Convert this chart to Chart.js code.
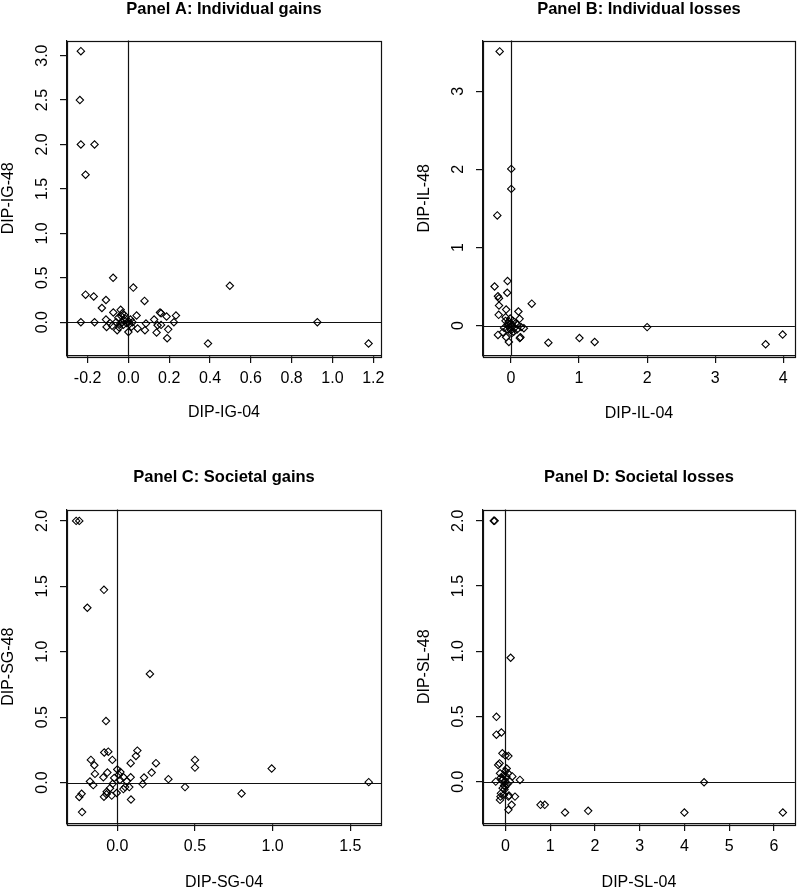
<!DOCTYPE html>
<html>
<head>
<meta charset="utf-8">
<script src="https://cdn.jsdelivr.net/npm/chart.js@4.4.1/dist/chart.umd.min.js"></script>
<style>
  body { margin: 0; background: #fff; }
  #wrap { position: relative; width: 800px; height: 891px; }
  canvas { position: absolute; }
</style>
</head>
<body>
<div id="wrap">
  <canvas id="pA" width="400" height="445" style="left:0;top:0"></canvas>
  <canvas id="pB" width="400" height="445" style="left:400px;top:0"></canvas>
  <canvas id="pC" width="400" height="446" style="left:0;top:445px"></canvas>
  <canvas id="pD" width="400" height="446" style="left:400px;top:445px"></canvas>
</div>
<script>
// panel texts
const panelTitles = ["Panel A: Individual gains", "Panel B: Individual losses", "Panel C: Societal gains", "Panel D: Societal losses"];
const xTitles = ["DIP-IG-04", "DIP-IL-04", "DIP-SG-04", "DIP-SL-04"];
const yTitles = ["DIP-IG-48", "DIP-IL-48", "DIP-SG-48", "DIP-SL-48"];

// tick labels
const xTicksA = ["-0.2", "0.0", "0.2", "0.4", "0.6", "0.8", "1.0", "1.2"];
const yTicksA = ["0.0", "0.5", "1.0", "1.5", "2.0", "2.5", "3.0"];
const xTicksB = ["0", "1", "2", "3", "4"];
const yTicksB = ["0", "1", "2", "3"];
const xTicksC = ["0.0", "0.5", "1.0", "1.5"];
const yTicksC = ["0.0", "0.5", "1.0", "1.5", "2.0"];
const xTicksD = ["0", "1", "2", "3", "4", "5", "6"];
const yTicksD = ["0.0", "0.5", "1.0", "1.5", "2.0"];

// Panel A: individual gains
const xA = [-0.233, -0.238, -0.233, -0.166, -0.21, -0.21, -0.17, -0.075, 0.497, 0.024,
  -0.11, 0.079, -0.13, -0.074, -0.038, -0.03, 0.04, 0.155, 0.16, 0.187, 0.233,
  -0.233, -0.166, -0.11, -0.09, -0.107, -0.055, 0.0, 0.045, 0.081, 0.086, 0.126, 0.138,
  0.143, 0.16, 0.195, 0.19, 0.223, 0.39, 0.926, 1.177,
  -0.03, -0.02, -0.01, 0.0, -0.04, -0.015, -0.025, 0.005, -0.05, -0.06, 0.01, -0.035,
  0.015, -0.08, -0.045, -0.02, 0.02];
const yA = [3.05, 2.50, 2.00, 2.00, 1.66, 0.31, 0.29, 0.50, 0.41, 0.39,
  0.25, 0.24, 0.16, 0.11, 0.14, 0.10, 0.075, 0.11, 0.10, 0.064, 0.075,
  0.0, 0.0, 0.03, -0.01, -0.053, -0.09, -0.11, -0.07, -0.09, -0.015, 0.03, -0.116,
  -0.034, -0.03, -0.08, -0.18, 0.0, -0.24, 0.0, -0.24,
  0.0, 0.02, -0.01, 0.01, -0.02, 0.04, -0.03, -0.02, 0.05, 0.0, 0.03, 0.07,
  -0.05, -0.04, -0.06, 0.08, 0.0];

// Panel B: individual losses
const xB = [-0.165, 0.005, 0.005, -0.20, -0.05, -0.24, -0.19, -0.175, -0.054, -0.175,
  0.306, -0.07, -0.18, 0.11, -0.078, 0.127, 0.19, -0.19, -0.07, -0.03, 0.14, 0.55,
  -0.117, 1.006, 1.23, 2.0, 3.74, 3.99, 0.13,
  -0.03, 0.0, -0.02, 0.02, -0.05, 0.03, -0.01, 0.05, -0.06, 0.0, 0.07, -0.04, 0.01,
  0.09, 0.15, 0.1, -0.08, 0.04, -0.1];
const yB = [3.51, 2.006, 1.75, 1.41, 0.57, 0.50, 0.375, 0.35, 0.42, 0.256,
  0.28, 0.205, 0.137, 0.18, 0.107, 0.086, -0.034, -0.12, -0.15, -0.21, -0.15, -0.22,
  -0.085, -0.16, -0.21, -0.02, -0.24, -0.115, -0.16,
  0.05, 0.02, -0.02, 0.0, 0.0, 0.06, 0.09, -0.03, -0.05, -0.06, 0.03, 0.03, -0.1,
  -0.05, -0.02, 0.01, 0.06, -0.08, -0.03];

// Panel C: societal gains
const xC = [-0.265, -0.245, -0.086, -0.193, 0.21, -0.073,
  -0.084, -0.058, 0.129, 0.12, -0.17, -0.032, 0.50, 0.50, 0.994, 0.249, 0.086, -0.148,
  0.221, -0.144, -0.064, -0.09, 0.086, 0.172, 0.329, -0.176, -0.155, 0.163, 0.436, 0.80,
  1.619, -0.23, -0.245, -0.227, -0.086, -0.07, -0.036, -0.004, 0.088, -0.047, 0.039, 0.077,
  0.017, -0.02, 0.01, 0.04, -0.068, 0.05, -0.03, 0.0, 0.02, 0.06];
const yC = [2.0, 2.0, 1.473, 1.336, 0.83, 0.47,
  0.23, 0.236, 0.244, 0.203, 0.173, 0.173, 0.173, 0.114, 0.107, 0.148, 0.148, 0.132,
  0.076, 0.066, 0.076, 0.04, 0.04, 0.038, 0.026, 0.008, -0.02, -0.012, -0.035, -0.084,
  0.003, -0.086, -0.11, -0.226, -0.109, -0.09, -0.1, -0.08, -0.13, -0.043, -0.05, -0.035,
  0.02, 0.035, 0.06, 0.04, -0.07, -0.035, -0.01, 0.1, 0.08, 0.01];

// Panel D: societal losses
const xD = [-0.26, -0.24, 0.118, -0.2, -0.2, -0.089, -0.067, 0.067, 0.0, -0.16, -0.13,
  -0.12, 0.06, 0.155, 0.326, -0.215, -0.1, -0.12, 0.08, 0.215, 0.14, 0.067, 0.785, 0.88,
  1.333, 1.85, 4.0, 4.44, 6.2, -0.11, 0.07,
  -0.05, 0.0, -0.03, 0.02, -0.08, 0.04, -0.02, 0.0, -0.06, 0.03, -0.04, 0.0, -0.1, 0.1, -0.03];
const yD = [2.0, 2.0, 0.95, 0.497, 0.36, 0.377, 0.217, 0.196, 0.2, 0.128, 0.14,
  0.064, 0.064, 0.04, 0.013, 0.0, -0.09, -0.14, -0.107, -0.115, -0.178, -0.216, -0.178, -0.178,
  -0.237, -0.224, -0.237, -0.005, -0.237, -0.115, -0.115,
  0.02, 0.0, -0.03, 0.04, 0.01, -0.02, -0.06, 0.08, -0.05, 0.1, 0.05, -0.04, 0.03, 0.0, -0.1];

Chart.defaults.font.family = '"Liberation Sans", Arial, sans-serif';
Chart.defaults.color = '#000';

const labelFont = { size: 16, lineHeight: 1 };
const lineColor = '#111';

// box around the plot region, lines at x=0 and y=0, rotated y tick labels
const framePlugin = {
  id: 'frame',
  beforeDatasetsDraw(chart) {
    const { ctx, chartArea: a, scales: { x, y } } = chart;
    const yt = chart.options.plugins.frame.yTicks;
    ctx.save();
    ctx.strokeStyle = lineColor;
    ctx.lineWidth = 1.2;
    ctx.beginPath();
    const x0 = Math.round(x.getPixelForValue(0)) + 0.5;
    const y0 = Math.round(y.getPixelForValue(0)) + 0.5;
    ctx.moveTo(x0, a.top);
    ctx.lineTo(x0, a.bottom);
    ctx.moveTo(a.left, y0);
    ctx.lineTo(a.right, y0);
    ctx.stroke();
    ctx.strokeRect(Math.round(a.left) + 0.5, Math.round(a.top) + 0.5,
      Math.round(a.right - a.left), Math.round(a.bottom - a.top));

    ctx.fillStyle = '#000';
    ctx.font = '16px "Liberation Sans", Arial, sans-serif';
    ctx.textAlign = 'center';
    ctx.textBaseline = 'alphabetic';
    yt.forEach((lab) => {
      const py = y.getPixelForValue(parseFloat(lab));
      ctx.save();
      ctx.translate(a.left - 25.5 + 5.7, py);
      ctx.rotate(-Math.PI / 2);
      ctx.fillText(lab, 0, 0);
      ctx.restore();
    });
    ctx.restore();
  }
};

function rysujPanel(id, p) {
  const punkty = p.xs.map((v, i) => ({ x: v, y: p.ys[i] }));
  new Chart(document.getElementById(id), {
    type: 'scatter',
    data: {
      datasets: [{
        data: punkty,
        pointStyle: 'rectRot',
        pointRadius: 3.7,
        pointBorderWidth: 1.1,
        borderColor: '#000',
        backgroundColor: 'rgba(0,0,0,0)'
      }]
    },
    options: {
      responsive: false,
      animation: false,
      layout: { padding: { left: 0, right: p.right, top: 0, bottom: 0 } },
      plugins: {
        legend: { display: false },
        tooltip: { enabled: false },
        title: {
          display: true,
          fullSize: false,
          text: p.title,
          color: '#000',
          font: { size: 16.5, weight: 'bold', lineHeight: 1 },
          padding: { top: p.titleTop, bottom: p.titleBottom }
        },
        frame: { yTicks: p.yt }
      },
      scales: {
        x: {
          type: 'linear',
          min: p.xmin, max: p.xmax,
          afterBuildTicks: (s) => { s.ticks = p.xt.map((v) => ({ value: parseFloat(v) })); },
          afterFit: (s) => { s.height = p.xAxisH; },
          ticks: {
            callback: (v, i) => p.xt[i],
            font: labelFont, color: '#000', padding: 8,
            maxRotation: 0, autoSkip: false
          },
          grid: { drawOnChartArea: false, drawTicks: true, tickLength: 7, lineWidth: 1.2, color: lineColor, tickColor: lineColor },
          border: { display: true, color: lineColor, width: 1.2 },
          title: { display: true, text: p.xTitle, font: labelFont, color: '#000', padding: { top: 0, bottom: p.xTitlePad } }
        },
        y: {
          type: 'linear',
          min: p.ymin, max: p.ymax,
          afterBuildTicks: (s) => { s.ticks = p.yt.map((v) => ({ value: parseFloat(v) })); },
          afterFit: (s) => { s.width = p.yAxisW; },
          ticks: { display: false },
          grid: { drawOnChartArea: false, drawTicks: true, tickLength: 7, lineWidth: 1.2, color: lineColor, tickColor: lineColor },
          border: { display: true, color: lineColor, width: 1.2 },
          title: { display: true, text: p.yTitle, font: labelFont, color: '#000', padding: { top: p.yTitlePad, bottom: 0 } }
        }
      }
    },
    plugins: [framePlugin]
  });
}

rysujPanel('pA', {
  xs: xA, ys: yA, xt: xTicksA, yt: yTicksA, title: panelTitles[0], xTitle: xTitles[0], yTitle: yTitles[0],
  xmin: -0.301, xmax: 1.238, ymin: -0.38, ymax: 3.17,
  right: 19, titleTop: 1, titleBottom: 23, xAxisH: 89, yAxisW: 67, xTitlePad: 24, yTitlePad: 1
});
rysujPanel('pB', {
  xs: xB, ys: yB, xt: xTicksB, yt: yTicksB, title: panelTitles[1], xTitle: xTitles[1], yTitle: yTitles[1],
  xmin: -0.41, xmax: 4.17, ymin: -0.39, ymax: 3.65,
  right: 3, titleTop: 1, titleBottom: 23, xAxisH: 89, yAxisW: 83, xTitlePad: 23, yTitlePad: 17
});
rysujPanel('pC', {
  xs: xC, ys: yC, xt: xTicksC, yt: yTicksC, title: panelTitles[2], xTitle: xTitles[2], yTitle: yTitles[2],
  xmin: -0.324, xmax: 1.698, ymin: -0.317, ymax: 2.087,
  right: 19, titleTop: 24, titleBottom: 24, xAxisH: 67, yAxisW: 67, xTitlePad: 0, yTitlePad: 1
});
rysujPanel('pD', {
  xs: xD, ys: yD, xt: xTicksD, yt: yTicksD, title: panelTitles[3], xTitle: xTitles[3], yTitle: yTitles[3],
  xmin: -0.50, xmax: 6.47, ymin: -0.325, ymax: 2.087,
  right: 3, titleTop: 24, titleBottom: 24, xAxisH: 67, yAxisW: 83, xTitlePad: 0, yTitlePad: 17
});
</script>
</body>
</html>
